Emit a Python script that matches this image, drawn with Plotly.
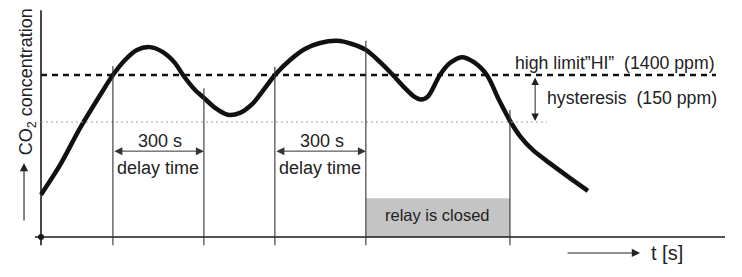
import plotly.graph_objects as go

# ---- data (time in s, CO2 in ppm) ----
time_s = [0, 63, 129, 195, 237, 277, 316, 359, 402, 442, 468, 508, 537, 574, 616,
          656, 696, 738, 771, 821, 870, 920, 976, 1025, 1071, 1118, 1160, 1200, 1229,
          1253, 1276, 1315, 1348, 1387, 1427, 1470, 1510, 1546, 1579, 1622, 1678,
          1744, 1803]
co2_ppm = [1018, 1113, 1231, 1336, 1400, 1448, 1480, 1489, 1473, 1438, 1400, 1352,
           1327, 1295, 1273, 1279, 1307, 1358, 1400, 1448, 1483, 1502, 1509, 1499,
           1480, 1441, 1400, 1358, 1332, 1322, 1332, 1400, 1438, 1457, 1441, 1400,
           1320, 1254, 1205, 1160, 1118, 1071, 1030]

high_limit = 1400
hysteresis = 150
low_limit = high_limit - hysteresis
delay = 300
delay_starts = [237, 771]
relay_closed = [1071, 1546]
switch_times = [237, 537, 771, 1071, 1546]
switch_tops = [1429, 1358, 1426, 1509, 1288]

# ---- geometry in data units ----
x_min, x_max = -135.2, 2311
y_min, y_max = 755.3, 1639.4
base = 883          # time axis level
bottom = 857        # bottom of vertical markers
ax_color = "#1a1a1a"
font = "Liberation Sans, Arial, sans-serif"

fig = go.Figure()

# curve
fig.add_trace(go.Scatter(x=time_s, y=co2_ppm, mode="lines",
                         line=dict(color="#111111", width=4.5, shape="spline", smoothing=0.8),
                         hoverinfo="skip", showlegend=False))

shapes = []
# relay closed rect
shapes.append(dict(type="rect", x0=relay_closed[0], x1=relay_closed[1], y0=base, y1=1007,
                   fillcolor="#c4c4c4", line=dict(width=0), layer="below"))
# axes
shapes.append(dict(type="line", x0=-20, x1=2255, y0=base, y1=base,
                   line=dict(color=ax_color, width=1.6)))
shapes.append(dict(type="line", x0=0, x1=0, y0=bottom, y1=1607,
                   line=dict(color=ax_color, width=1.6)))
# limit lines
shapes.append(dict(type="line", x0=0, x1=2225, y0=high_limit, y1=high_limit,
                   line=dict(color="#111111", width=2.6, dash="6px,5px")))
shapes.append(dict(type="line", x0=0, x1=1668, y0=low_limit, y1=low_limit,
                   line=dict(color="#9a9a9a", width=1, dash="2px,3px")))
# vertical switch lines
for t, top in zip(switch_times, switch_tops):
    shapes.append(dict(type="line", x0=t, x1=t, y0=bottom, y1=top,
                       line=dict(color="#333333", width=1.1)))

annotations = []
# delay arrows and labels
for t0 in delay_starts:
    annotations.append(dict(x=t0 + delay, y=1157, ax=t0, ay=1157, xref="x", yref="y",
                            axref="x", ayref="y", text="", showarrow=True,
                            arrowhead=2, startarrowhead=2, arrowside="end+start",
                            arrowsize=1.6, startarrowsize=1.6, arrowwidth=1, arrowcolor="#333333"))
    annotations.append(dict(x=t0 + delay / 2 + 4, y=1188, text="300 s", showarrow=False,
                            font=dict(family=font, size=18, color="#222222")))
    annotations.append(dict(x=t0 + delay / 2, y=1103, text="delay time", showarrow=False,
                            font=dict(family=font, size=18, color="#222222")))

# hysteresis double arrow
annotations.append(dict(x=1629, y=low_limit + 3, ax=1629, ay=high_limit - 3, xref="x", yref="y",
                        axref="x", ayref="y", text="", showarrow=True,
                        arrowhead=2, startarrowhead=2, arrowside="end+start",
                        arrowsize=1.5, startarrowsize=1.5, arrowwidth=1, arrowcolor="#222222"))
annotations.append(dict(x=2229, y=1438, text="high limit\u201dHI\u201d \u00a0(1400 ppm)",
                        showarrow=False, xanchor="right",
                        font=dict(family=font, size=17.7, color="#222222")))
annotations.append(dict(x=1661, y=1327, text="hysteresis \u00a0(150 ppm)",
                        showarrow=False, xanchor="left",
                        font=dict(family=font, size=17.7, color="#222222")))
annotations.append(dict(x=(relay_closed[0] + relay_closed[1]) / 2, y=952,
                        text="relay is closed", showarrow=False,
                        font=dict(family=font, size=16.5, color="#222222")))

# y title and arrow
annotations.append(dict(x=-46, y=1377, text="CO<sub>2</sub> concentration", textangle=-90,
                        showarrow=False, font=dict(family=font, size=18, color="#222222")))
annotations.append(dict(x=-56, y=1119, ax=-56, ay=931, xref="x", yref="y", axref="x", ayref="y",
                        text="", showarrow=True, arrowhead=2, arrowsize=1.5, arrowwidth=1.1,
                        arrowcolor="#222222"))
# time arrow and title
annotations.append(dict(x=1975, y=832, ax=1731, ay=832, xref="x", yref="y", axref="x", ayref="y",
                        text="", showarrow=True, arrowhead=2, arrowsize=1.5, arrowwidth=1.1,
                        arrowcolor="#222222"))
annotations.append(dict(x=2005, y=832, text="t [s]", showarrow=False, xanchor="left",
                        font=dict(family=font, size=20, color="#222222")))

# origin dot
fig.add_trace(go.Scatter(x=[0], y=[base], mode="markers",
                         marker=dict(color=ax_color, size=6), hoverinfo="skip", showlegend=False))

fig.update_layout(width=742, height=277, margin=dict(l=0, r=0, t=0, b=0),
                  paper_bgcolor="white", plot_bgcolor="white",
                  xaxis=dict(range=[x_min, x_max], visible=False, fixedrange=True),
                  yaxis=dict(range=[y_min, y_max], visible=False, fixedrange=True),
                  shapes=shapes, annotations=annotations, showlegend=False)

fig.write_html("out.html", config={"displayModeBar": False})
